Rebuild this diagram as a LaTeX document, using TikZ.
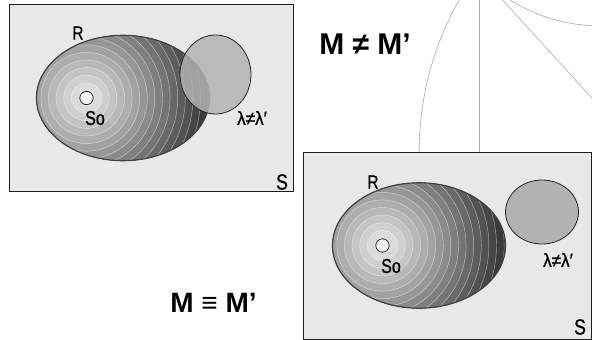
\documentclass[tikz,border=0pt]{standalone}
\usepackage{fontspec}
\setmainfont{Liberation Sans}
\newfontfamily\narrowsans[FakeStretch=0.8,FakeBold=0.8]{Liberation Sans}
\newfontfamily\lamsans[FakeStretch=0.9,FakeBold=0.8]{Liberation Sans}
\definecolor{boxbg}{RGB}{232,232,232}
\definecolor{boxline}{RGB}{30,30,30}
\definecolor{discfill}{RGB}{178,178,178}
\definecolor{guidecol}{RGB}{170,170,170}
\definecolor{seedfill}{RGB}{245,245,245}
\newcommand\ringblob[2]{%
\begin{scope}[shift={(#1,#2)}]
  \begin{scope}
    \clip (0,0) ellipse[x radius=86.5, y radius=62.7];
    \foreach \i in {17,16,...,1}{%
      \pgfmathsetmacro\rr{\i*7.6}%
      \pgfmathtruncatemacro\vv{max(50,242-1.5*\rr)}%
      \definecolor{ringc}{RGB}{\vv,\vv,\vv}%
      \fill[ringc] (-36.5,0) circle[radius=\rr];
      \draw[white, line width=0.45pt, opacity=0.55] (-36.5,0) circle[radius=\rr];
    }
  \end{scope}
  \draw[outline] (0,0) ellipse[x radius=86.5, y radius=62.7];
  \draw[seed] (-36.5,0) circle[radius=6.7];
\end{scope}}
\begin{document}
\begin{tikzpicture}[x=1pt,y=-1pt,
  panel/.style={fill=boxbg, draw=boxline, line width=1pt},
  outline/.style={draw=black!75, line width=1.2pt},
  disc/.style={fill=discfill, draw=black!85, line width=0.8pt},
  seed/.style={fill=seedfill, draw=black!85, line width=0.8pt},
  guide/.style={draw=guidecol, line width=0.6pt},
  lab/.style={inner sep=0, font=\narrowsans\fontsize{19}{19}\selectfont},
  solab/.style={inner sep=0, font=\narrowsans\fontsize{20}{20}\selectfont},
  biglab/.style={inner sep=0, font=\narrowsans\fontsize{22}{22}\selectfont},
  lamlab/.style={inner sep=0, font=\lamsans\fontsize{19}{19}\selectfont},
  mlab/.style={inner sep=0, font=\bfseries\fontsize{30}{30}\selectfont},
  mlabb/.style={inner sep=0, font=\bfseries\fontsize{28}{28}\selectfont}]
\useasboundingbox (0,0) rectangle (592,340);
% guide lines in the upper right
\begin{scope}
  \clip (0,0) rectangle (592,152);
  \coordinate (apex) at (479,-26);
  \coordinate (vend) at (479,152);
  \coordinate (dend) at (600,107);
  \draw[guide] (728,152) circle[radius=308.8];
  \draw[guide] (600,-143) circle[radius=168.8];
  \draw[guide] (apex) -- (vend);
  \draw[guide] (apex) -- (dend);
\end{scope}
% top-left panel
\draw[panel] (9,4) rectangle (293.5,191.5);
\ringblob{123}{98}
\draw[disc, fill opacity=0.85] (215.5,74.5) ellipse[x radius=35.5, y radius=39.5];
\node[lab] (r1) at (78,33) {R};
\node[solab] (so1) at (95,118) {So};
\node[lamlab] (lam1) at (252,118) {λ≠λ′};
\node[biglab] (s1) at (282,182) {S};
% bottom-right panel
\draw[panel] (303.5,152) rectangle (591.5,339.5);
\ringblob{419}{245.5}
\draw[disc] (542,212) ellipse[x radius=36.5, y radius=32];
\node[lab] (r2) at (373,182) {R};
\node[solab] (so2) at (391,266) {So};
\node[lamlab] (lam2) at (558,260) {λ≠λ′};
\node[biglab] (s2) at (580,327) {S};
% relations
\node[mlab] (mneq) at (365,44) {M ≠ M’};
\node[mlabb] (meq) at (213.5,303) {M ≡ M’};
\end{tikzpicture}
\end{document}
